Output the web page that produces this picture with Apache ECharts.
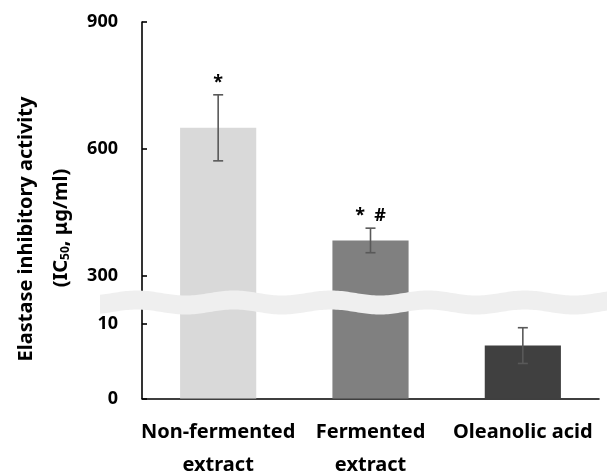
<!DOCTYPE html>
<html>
<head>
<meta charset="utf-8">
<script src="https://cdn.jsdelivr.net/npm/echarts@6/dist/echarts.min.js"></script>
<style>
html,body{margin:0;padding:0;background:#fff;}
#chart{width:607px;height:474px;}
</style>
</head>
<body>
<div id="chart"></div>
<script>
// ---- data ----
const categories = ['Non-fermented\nextract', 'Fermented\nextract', 'Oleanolic acid'];
const means = [650, 384, 7.1];
const errors = [78, 29, 2.4];
const marks = ['*', '*  #', ''];
const barColors = ['#d9d9d9', '#808080', '#404040'];
const upperTicks = [300, 600, 900];
const lowerTicks = [0, 10];
const titleLine1 = 'Elastase inhibitory activity';
const titleLine2 = '(IC{sub|50}, μg/ml)';

// ---- axis ranges (broken axis) ----
const UPPER_MIN = 250, UPPER_MAX = 900;
const LOWER_MIN = 0, LOWER_MAX = 13.6;

const FONT = '"Noto Sans", sans-serif';

const upperBars = means.map((v, i) => v > LOWER_MAX ? { value: v, itemStyle: { color: barColors[i] } } : '-');
const lowerBars = means.map((v, i) => ({ value: Math.min(v, LOWER_MAX), itemStyle: { color: barColors[i] } }));
const upperErr = [], lowerErr = [];
means.forEach((v, i) => {
  const item = [i, v - errors[i], v + errors[i]];
  if (v > LOWER_MAX) upperErr.push(item); else lowerErr.push(item);
});

function renderErr(params, api) {
  const idx = api.value(0);
  const top = api.coord([idx, api.value(2)]);
  const bot = api.coord([idx, api.value(1)]);
  const hw = 5;
  const st = { stroke: '#595959', lineWidth: 1.6 };
  const children = [
    { type: 'line', shape: { x1: top[0], y1: top[1], x2: bot[0], y2: bot[1] }, style: st },
    { type: 'line', shape: { x1: top[0] - hw, y1: top[1], x2: top[0] + hw, y2: top[1] }, style: st },
    { type: 'line', shape: { x1: bot[0] - hw, y1: bot[1], x2: bot[0] + hw, y2: bot[1] }, style: st }
  ];
  const m = marks[idx];
  if (m) {
    children.push({ type: 'text', style: { text: m, x: top[0], y: top[1] - 3, align: 'center', verticalAlign: 'bottom', font: 'bold 18px ' + FONT, fill: '#000' } });
  }
  return { type: 'group', children };
}

// wavy break band
function bandPoints() {
  const pts = [];
  const topY = x => 293 - 2.5 * Math.cos(2 * Math.PI * (x - 137) / 97);
  for (let x = 100; x <= 610; x += 2) pts.push([x, topY(x)]);
  for (let x = 610; x >= 100; x -= 2) pts.push([x, topY(x) + 19]);
  return pts;
}

const chart = echarts.init(document.getElementById('chart'), null, { renderer: 'canvas' });
const upperH = (UPPER_MAX - UPPER_MIN) * 127 / 300;
const lowerH = (LOWER_MAX - LOWER_MIN) * 7.45;
const axisLineStyle = { color: '#000', width: 1.6 };

chart.setOption({
  animation: false,
  backgroundColor: '#fff',
  grid: [
    { left: 142, right: 8, top: 22, height: upperH, containLabel: false, outerBoundsMode: 'none' },
    { left: 142, right: 8, top: 22 + upperH, height: lowerH, containLabel: false, outerBoundsMode: 'none' }
  ],
  xAxis: [
    { type: 'category', gridIndex: 0, data: categories, show: false },
    {
      type: 'category', gridIndex: 1, data: categories,
      axisLine: { lineStyle: axisLineStyle },
      axisTick: { inside: true, length: 5, lineStyle: axisLineStyle },
      axisLabel: { interval: 0, hideOverlap: false, color: '#000', fontFamily: FONT, fontWeight: 'bold', fontSize: 20, lineHeight: 33, margin: 17 }
    }
  ],
  yAxis: [
    {
      type: 'value', gridIndex: 0, min: UPPER_MIN, max: UPPER_MAX,
      splitLine: { show: false },
      axisLine: { show: true, lineStyle: axisLineStyle },
      axisTick: { show: true, inside: true, length: 5, lineStyle: axisLineStyle, customValues: upperTicks },
      axisLabel: { color: '#000', fontFamily: FONT, fontWeight: 'bold', fontSize: 18, margin: 24, customValues: upperTicks }
    },
    {
      type: 'value', gridIndex: 1, min: LOWER_MIN, max: LOWER_MAX,
      splitLine: { show: false },
      axisLine: { show: true, lineStyle: axisLineStyle },
      axisTick: { show: true, inside: true, length: 5, lineStyle: axisLineStyle, customValues: lowerTicks },
      axisLabel: { color: '#000', fontFamily: FONT, fontWeight: 'bold', fontSize: 18, margin: 24, customValues: lowerTicks }
    }
  ],
  series: [
    { type: 'bar', xAxisIndex: 0, yAxisIndex: 0, data: upperBars, barWidth: '50%', z: 2 },
    { type: 'bar', xAxisIndex: 1, yAxisIndex: 1, data: lowerBars, barWidth: '50%', z: 2 },
    { type: 'custom', xAxisIndex: 0, yAxisIndex: 0, data: upperErr, renderItem: renderErr, z: 5 },
    { type: 'custom', xAxisIndex: 1, yAxisIndex: 1, data: lowerErr, renderItem: renderErr, z: 5 }
  ],
  graphic: [
    { type: 'polygon', shape: { points: bandPoints() }, style: { fill: '#efefef' }, z: 100, silent: true },
    {
      type: 'text', x: 26, y: 229, rotation: Math.PI / 2, z: 101,
      style: { text: titleLine1, font: 'bold 20px ' + FONT, fill: '#000', align: 'center', verticalAlign: 'middle' }
    },
    {
      type: 'text', x: 61, y: 228, rotation: Math.PI / 2, z: 101,
      style: {
        text: titleLine2, font: 'bold 20px ' + FONT, fill: '#000', align: 'center', verticalAlign: 'middle',
        rich: { sub: { fontSize: 12, fontWeight: 'bold', fontFamily: FONT, padding: [9, 0, 0, 0], verticalAlign: 'bottom' } }
      }
    }
  ]
});
</script>
</body>
</html>
